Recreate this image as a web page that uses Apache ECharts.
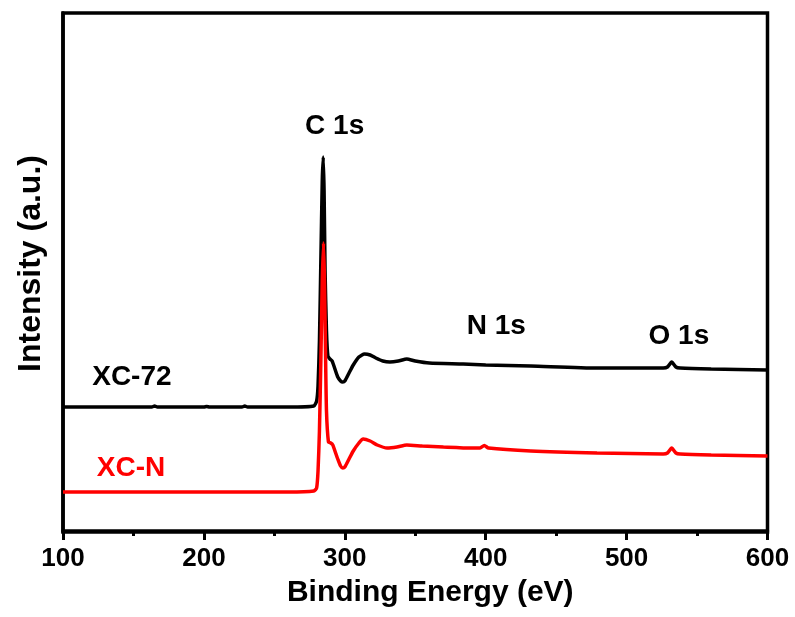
<!DOCTYPE html>
<html>
<head>
<meta charset="utf-8">
<script src="https://cdn.jsdelivr.net/npm/echarts@6/dist/echarts.min.js"></script>
<style>
  html, body { margin: 0; padding: 0; background: #fff; }
  #chart { width: 795px; height: 617px; }
</style>
</head>
<body>
<div id="chart"></div>
<script>
// binding energy (eV) and intensity in arbitrary units
const xc72Energy = [100, 150, 163, 165, 167, 200, 202, 204, 227, 229, 231, 260, 278, 280, 281, 282, 283, 284, 284.7, 285.3, 286, 287, 288, 289.5, 291, 293, 295, 297, 298.6, 300, 303, 306, 310, 314, 318, 322, 327, 332, 338, 344, 350, 360, 384, 400, 432, 479, 526, 529, 532, 535, 538, 560, 600]
const xc72Intensity = [124, 124, 124, 125, 124, 124, 124.6, 124, 124, 125, 124, 124, 125, 130, 145, 190, 270, 350, 374, 340, 260, 200, 175, 172, 170, 162, 154, 150, 149, 150, 158, 166, 174, 177, 176, 173, 170, 169, 170, 172, 170, 168, 167, 166, 165, 163, 163, 164, 169, 164, 163, 162, 161]

const xcnEnergy = [100, 150, 200, 260, 278, 280, 281, 282, 283, 284, 284.9, 285.6, 286.3, 287, 288.4, 290, 291.5, 293, 295, 297, 298.6, 300, 303, 306, 310, 313, 318, 323, 330, 337, 344, 355, 370, 390, 396, 399, 402, 432, 479, 526, 529, 532, 535, 538, 560, 600]
const xcnIntensity = [39, 39, 39, 39, 40, 43, 60, 100, 170, 250, 288, 250, 180, 120, 89, 88, 86, 80, 72, 65, 63, 64, 72, 80, 88, 92, 90, 86, 83, 84, 86, 85, 84, 83, 83, 85.5, 83, 80, 78, 77, 78, 83, 78, 77, 76, 75]

// peak / sample labels: [energy, intensity, text]
const peakLabels = [[292.8, 404.5, 'C 1s'], [407.5, 204.5, 'N 1s'], [537.1, 194.5, 'O 1s']]
const sampleLabels = [[148.9, 154, 'XC-72'], [148.3, 63, 'XC-N']]

const font = 'Arial, "Liberation Sans", sans-serif'

const chart = echarts.init(document.getElementById('chart'))

const zip = (xs, ys) => xs.map((x, i) => [x, ys[i]])

chart.setOption({
  animation: false,
  grid: {
    left: 63,
    right: 27.5,
    top: 13,
    bottom: 85,
    show: true,
    borderColor: '#000',
    borderWidth: 3.5
  },
  xAxis: {
    type: 'value',
    min: 100,
    max: 600,
    interval: 100,
    name: 'Binding Energy (eV)',
    nameLocation: 'middle',
    nameGap: 46,
    nameTextStyle: { fontFamily: font, fontWeight: 'bold', fontSize: 30, color: '#000', padding: [0, 0, 0, 30] },
    axisLine: { lineStyle: { color: '#000', width: 3.5 } },
    axisTick: { length: 9, lineStyle: { color: '#000', width: 3 } },
    minorTick: { show: true, splitNumber: 2, length: 5, lineStyle: { color: '#000', width: 3 } },
    splitLine: { show: false },
    axisLabel: { fontFamily: font, fontWeight: 'bold', fontSize: 26, color: '#000', margin: 14 }
  },
  yAxis: {
    type: 'value',
    min: -1,
    max: 518,
    name: 'Intensity (a.u.)',
    nameLocation: 'middle',
    nameGap: 16,
    nameTextStyle: { fontFamily: font, fontWeight: 'bold', fontSize: 32, color: '#000', padding: [0, 0, 0, 18] },
    axisLine: { show: true, lineStyle: { color: '#000', width: 3.5 } },
    axisTick: { show: false },
    axisLabel: { show: false },
    splitLine: { show: false }
  },
  series: [
    {
      name: 'XC-72',
      type: 'line',
      data: zip(xc72Energy, xc72Intensity),
      showSymbol: false,
      smooth: 0.2,
      lineStyle: { color: '#000', width: 3.5 },
      z: 3
    },
    {
      name: 'XC-N',
      type: 'line',
      data: zip(xcnEnergy, xcnIntensity),
      showSymbol: false,
      smooth: 0.2,
      lineStyle: { color: '#ff0000', width: 3.5 },
      z: 4
    },
    {
      name: 'labels',
      type: 'scatter',
      symbolSize: 0,
      silent: true,
      itemStyle: { opacity: 1 },
      data: peakLabels.concat(sampleLabels).map(d => ({
        value: d,
        label: { color: d[2] === 'XC-N' ? '#ff0000' : '#000' }
      })),
      label: {
        show: true,
        position: 'inside',
        formatter: p => p.data.value[2],
        fontFamily: font,
        fontWeight: 'bold',
        fontSize: 28
      },
      z: 5
    }
  ]
})
</script>
</body>
</html>
